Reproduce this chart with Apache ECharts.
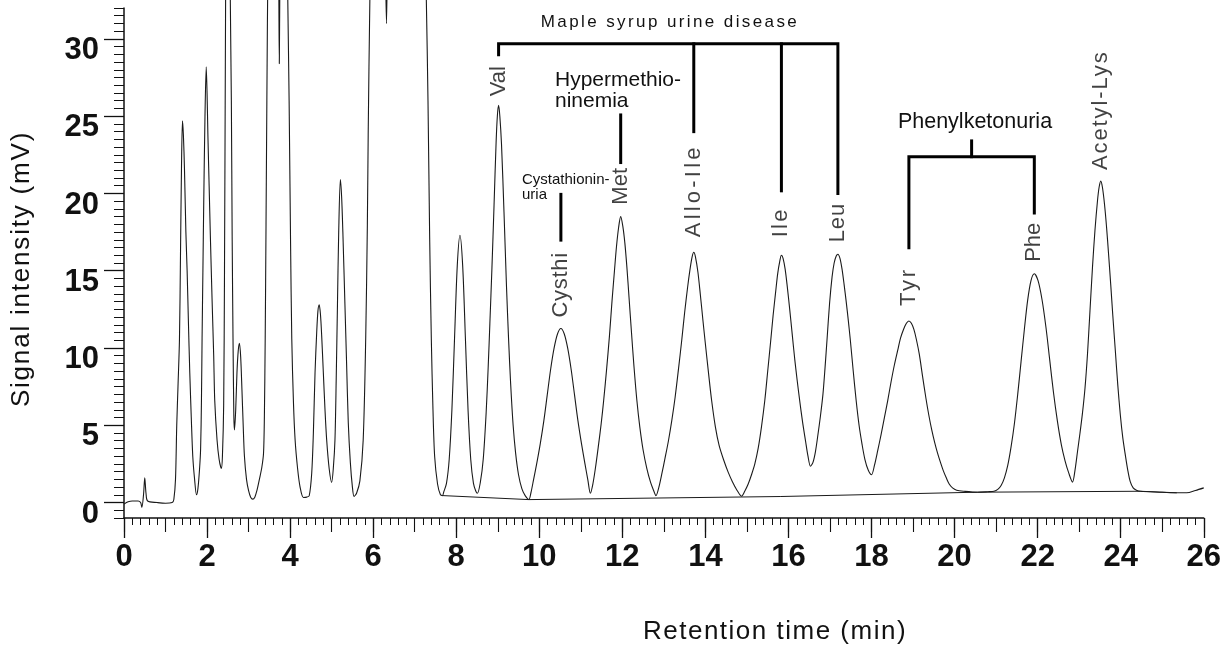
<!DOCTYPE html>
<html>
<head>
<meta charset="utf-8">
<script src="https://cdn.jsdelivr.net/npm/echarts@6/dist/echarts.min.js"></script>
<style>
  html, body { margin: 0; padding: 0; background: #ffffff; }
  #chart { width: 1224px; height: 648px; }
</style>
</head>
<body>
<div id="chart"></div>
<script>
// Detector trace: retention time (min) and signal (mV), read point by point.
// Values above the plot top belong to off-scale peaks.
const traceTime = [
  0, 0.1, 0.2, 0.34, 0.40, 0.43, 0.47, 0.50, 0.53, 0.57, 0.8, 1.0, 1.16,
  1.2, 1.24, 1.27, 1.30, 1.336, 1.36, 1.384, 1.408, 1.43, 1.456, 1.49, 1.52, 1.55, 1.584, 1.62, 1.656, 1.70, 1.745,
  1.78, 1.82, 1.845, 1.865, 1.88, 1.90, 1.92, 1.95, 1.98, 2.0, 2.02, 2.05, 2.08, 2.12, 2.16, 2.185, 2.24, 2.29, 2.345,
  2.37, 2.40, 2.42, 2.44, 2.47, 2.51, 2.56, 2.585, 2.605, 2.625, 2.645, 2.66,
  2.69, 2.72, 2.75, 2.78, 2.81, 2.84, 2.87, 2.90, 2.95, 3.0, 3.05, 3.10,
  3.15, 3.2, 3.26, 3.32, 3.36, 3.38, 3.40, 3.42, 3.44, 3.47, 3.55, 3.65, 3.72, 3.74, 3.76, 3.84, 3.92, 3.944, 3.976, 4.01, 4.04, 4.08, 4.12, 4.18, 4.24, 4.32, 4.40, 4.46,
  4.52, 4.56, 4.60, 4.64, 4.67, 4.70, 4.73, 4.76, 4.80, 4.84, 4.88, 4.94, 5.0,
  5.04, 5.08, 5.11, 5.14, 5.17, 5.21, 5.24, 5.27, 5.32, 5.36, 5.40, 5.45, 5.50, 5.54,
  5.6, 5.68, 5.76, 5.82, 5.86, 5.88, 5.92, 6.0, 6.15, 6.27, 6.32, 6.37, 6.6, 7.0, 7.22, 7.28, 7.32, 7.36, 7.40, 7.44, 7.48, 7.55, 7.62, 7.67,
  7.70, 7.765, 7.83, 7.895, 7.96, 8.025, 8.09, 8.155, 8.22, 8.285, 8.35, 8.415, 8.47, 8.51,
  8.58, 8.65, 8.72, 8.77, 8.81, 8.86, 8.91, 8.96, 8.99, 9.02, 9.05, 9.09, 9.15, 9.21, 9.26, 9.31, 9.37, 9.43, 9.50, 9.58, 9.66, 9.75,
  9.80, 9.86, 9.94, 10.025, 10.11, 10.19, 10.27, 10.355, 10.44, 10.52, 10.60, 10.685, 10.77, 10.85, 10.93, 11.015, 11.10, 11.17, 11.23,
  11.29, 11.35, 11.42, 11.49, 11.55, 11.62, 11.69, 11.75, 11.81, 11.86, 11.91, 11.96, 12.01, 12.06, 12.11, 12.16, 12.22, 12.28, 12.35, 12.42, 12.50, 12.59, 12.68, 12.75, 12.81,
  12.88, 12.95, 13.03, 13.11, 13.19, 13.27, 13.35, 13.43, 13.50, 13.57, 13.63, 13.68, 13.72, 13.76, 13.82, 13.88, 13.94, 13.99, 14.07, 14.15, 14.24, 14.33, 14.44, 14.55, 14.65, 14.76, 14.87,
  14.95, 15.03, 15.11, 15.19, 15.27, 15.35, 15.43, 15.50, 15.57, 15.63, 15.69, 15.74, 15.79, 15.83, 15.87, 15.92, 15.97, 16.03, 16.09, 16.15, 16.21, 16.27, 16.34, 16.41, 16.47, 16.53,
  16.59, 16.65, 16.71, 16.77, 16.83, 16.88, 16.93, 16.99, 17.05, 17.10, 17.15, 17.19, 17.24, 17.29, 17.34, 17.39, 17.44, 17.49, 17.56, 17.63, 17.70, 17.77, 17.84, 17.92, 18.0,
  18.07, 18.15, 18.23, 18.31, 18.39, 18.47, 18.55, 18.63, 18.70, 18.77, 18.84, 18.90, 18.96, 19.02, 19.08, 19.15, 19.23, 19.31, 19.38, 19.45, 19.52, 19.59, 19.66, 19.73, 19.80, 19.87, 19.95, 20.05, 20.23, 20.55, 20.8, 20.95,
  21.04, 21.12, 21.20, 21.28, 21.36, 21.44, 21.52, 21.60, 21.68, 21.76, 21.84, 21.92, 22.01, 22.105, 22.20, 22.29, 22.38, 22.475, 22.57, 22.66, 22.75, 22.84,
  22.90, 22.96, 23.02, 23.08, 23.14, 23.20, 23.26, 23.32, 23.38, 23.44, 23.48, 23.52, 23.56, 23.61, 23.66, 23.71, 23.76, 23.81, 23.87, 23.93, 23.99, 24.05, 24.11, 24.17, 24.23, 24.30, 24.38, 24.47,
  25.0, 25.35, 25.59, 25.8, 26.0
];
const traceSignal = [
  -0.1, 0.05, 0.1, 0.1, 0.0, -0.3, 0.5, 1.6, 0.6, 0.1, 0.0, -0.05, 0.0,
  0.2, 1.5, 5.0, 7.5, 10.6, 16, 21.6, 24.7, 23.8, 21.6, 17.5, 15.0, 11.8, 8.4, 5.5, 3.0, 1.5, 0.5,
  0.9, 2.2, 3.5, 6.6, 10.6, 15, 19.4, 25, 28.2, 26.5, 23.8, 20.5, 17.2, 13.2, 9.5, 6.6, 4.06, 2.8, 2.2,
  3.0, 6.3, 15, 28.2, 45, 52, 32.5, 26, 17, 10.6, 5.6, 4.7,
  6.0, 8.4, 9.8, 10.3, 9.4, 7.3, 5.0, 3.0, 1.5, 0.77, 0.35, 0.22,
  0.35, 0.77, 1.5, 2.3, 3.2, 5.5, 10.6, 18, 26, 36, 50, 48, 36, 28.4, 36, 50, 38, 32.5, 26, 17, 10.6, 6.5, 4.06, 2.2, 1.0, 0.33, 0.35, 0.44,
  1.9, 4.5, 8.4, 11.0, 12.4, 12.8, 12.2, 10.8, 8.4, 6.0, 4.06, 2.2, 1.3,
  2.2, 4.06, 8.0, 12.8, 17.5, 20.9, 19.8, 17.5, 12.8, 9.0, 5.2, 2.6, 1.0, 0.4,
  0.6, 1.4, 4.06, 10.6, 18, 23.8, 32.5, 45, 52, 40, 31.0, 40, 55, 55, 40, 32.5, 26, 17.2, 10.6, 6.0, 3.0, 1.2, 0.5, 0.45,
  0.69, 1.24, 2.77, 5.95, 10.69, 15.33, 17.3, 15.33, 10.69, 5.95, 2.77, 1.24, 0.75, 0.6,
  1.3, 2.8, 5.8, 8.8, 11.6, 15.2, 19.2, 23.3, 25.0, 25.7, 25.0, 23.2, 18.8, 14.0, 10.6, 7.7, 5.0, 3.2, 1.8, 0.9, 0.45, 0.2,
  0.65, 1.45, 2.55, 3.83, 5.3, 6.93, 8.56, 9.97, 10.92, 11.26, 10.92, 9.97, 8.56, 6.93, 5.3, 3.83, 2.5, 1.45, 0.6,
  1.2, 2.2, 3.6, 5.1, 6.6, 8.6, 10.8, 13.0, 15.0, 16.6, 17.8, 18.5, 17.9, 16.8, 15.2, 13.3, 11.0, 8.8, 6.6, 4.9, 3.4, 2.2, 1.3, 0.8, 0.45,
  1.0, 1.85, 2.9, 4.0, 5.3, 6.8, 8.6, 10.5, 12.3, 13.9, 15.1, 15.9, 16.2, 15.9, 14.9, 13.4, 11.8, 10.5, 8.5, 6.6, 4.9, 3.7, 2.75, 1.95, 1.35, 0.8, 0.41,
  0.75, 1.2, 1.8, 2.5, 3.5, 4.9, 6.6, 8.5, 10.4, 12.1, 13.6, 14.8, 15.6, 16.0, 15.8, 15.1, 14.0, 12.5, 10.9, 9.3, 7.9, 6.6, 5.2, 4.0, 3.0, 2.35,
  2.6, 3.3, 4.4, 5.6, 7.0, 8.7, 10.6, 12.9, 14.6, 15.5, 15.95, 16.07, 15.8, 15.1, 14.1, 13.0, 11.8, 10.5, 8.5, 6.6, 5.0, 3.8, 2.8, 2.1, 1.8,
  2.4, 3.37, 4.4, 5.5, 6.6, 7.8, 8.9, 9.85, 10.65, 11.2, 11.6, 11.75, 11.6, 11.2, 10.55, 9.6, 8.15, 6.75, 5.65, 4.7, 3.9, 3.2, 2.6, 2.05, 1.6, 1.2, 0.95, 0.8, 0.73, 0.67, 0.7, 0.73,
  0.85, 1.1, 1.6, 2.4, 3.6, 5.1, 7.0, 9.1, 11.2, 13.1, 14.36, 14.8, 14.36, 13.14, 11.34, 9.25, 7.15, 5.28, 3.75, 2.7, 1.9, 1.32,
  2.1, 3.3, 4.5, 5.8, 7.4, 9.6, 12.4, 15.2, 17.6, 19.5, 20.4, 20.8, 20.4, 19.3, 17.8, 16.0, 14.1, 12.1, 9.85, 7.6, 5.7, 4.2, 3.1, 2.1, 1.35, 0.95, 0.8, 0.73,
  0.67, 0.63, 0.63, 0.78, 0.95
];

// Integration baseline drawn under the later peaks.
const baselineTime = [7.67, 9.75, 15.8, 20.55, 24.47, 25.35];
const baselineSignal = [0.45, 0.19, 0.39, 0.67, 0.73, 0.63];

// Identified amino acids: apex time (min) and apex signal (mV).
const peakNames = ['Val', 'Cysthi', 'Met', 'Allo-Ile', 'Ile', 'Leu', 'Tyr', 'Phe', 'Acetyl-Lys'];
const peakTimes = [9.02, 10.52, 11.96, 13.72, 15.83, 17.19, 18.90, 21.92, 23.52];
const peakHeights = [25.7, 11.26, 18.5, 16.2, 16.0, 16.07, 11.75, 14.8, 20.8];

// Axis ticks.
const xTickLabels = [0, 2, 4, 6, 8, 10, 12, 14, 16, 18, 20, 22, 24, 26];
const yTickLabels = [0, 5, 10, 15, 20, 25, 30];

const FONT = "'Liberation Sans', Arial, Helvetica, sans-serif";
const INK = '#111111';

// Tracking (letter spacing) for texts set wide; every other text is drawn at 0px.
const tracking = {
  'Maple syrup urine disease': '2.4px',
  'Allo-Ile': '3.2px',
  'Ile': '2.2px',
  'Tyr': '2.8px',
  'Leu': '0.8px',
  'Cysthi': '0.7px',
  'Acetyl-Lys': '1.9px',
  'Signal intensity (mV)': '1.8px',
  'Retention time (min)': '1.5px'
};
(function () {
  const proto = CanvasRenderingContext2D.prototype;
  if (!('letterSpacing' in proto)) return;
  const baseFill = proto.fillText;
  proto.fillText = function (text, x, y, maxWidth) {
    const spacing = tracking[text] || '0px';
    if (this.letterSpacing !== spacing) {
      this.letterSpacing = spacing;
      // re-assign the font so the new spacing is picked up
      const f = this.font;
      this.font = '10px serif';
      this.font = f;
    }
    return maxWidth === undefined ? baseFill.call(this, text, x, y) : baseFill.call(this, text, x, y, maxWidth);
  };
})();

const tOf = name => peakTimes[peakNames.indexOf(name)];

// minor y ticks every 0.5 mV between the labelled ones
const yMinorTicks = [];
for (let v = -1; v <= 32.001; v += 0.5) {
  const r = Math.round(v * 10) / 10;
  if (!yTickLabels.includes(r)) yMinorTicks.push(r);
}

const trace = traceTime.map((t, i) => [t, traceSignal[i]]);
const baseline = baselineTime.map((t, i) => [t, baselineSignal[i]]);

// spacing between each apex and its rotated name (px)
const labelGap = [9, 11, 12, 15, 18, 12, 15, 12, 11];

function bracket(points) {
  return {
    type: 'line',
    data: points,
    symbol: 'none',
    silent: true,
    animation: false,
    clip: false,
    z: 4,
    lineStyle: { color: '#000', width: 3, cap: 'square', join: 'miter' }
  };
}

// Disease groupings (y levels in mV).
const mapleTop = 29.68;
const pkuTop = 22.38;

const chart = echarts.init(document.getElementById('chart'), null, { renderer: 'canvas' });

chart.setOption({
  animation: false,
  backgroundColor: '#ffffff',
  grid: { left: 124, right: 17, top: 8, bottom: 130, containLabel: false },
  xAxis: [
    {
      type: 'value', min: 0, max: 26, interval: 2, position: 'bottom',
      axisLine: { show: true, onZero: false, lineStyle: { color: INK, width: 1.5 } },
      axisTick: { show: true, length: 20, lineStyle: { color: INK, width: 1.3 } },
      minorTick: { show: true, splitNumber: 10, length: 7, lineStyle: { color: INK, width: 1 } },
      splitLine: { show: false }, minorSplitLine: { show: false },
      axisLabel: {
        margin: 24, color: INK, fontSize: 31, fontWeight: 'bold', fontFamily: FONT,
        customValues: xTickLabels
      }
    },
    {
      type: 'value', min: 0, max: 26, interval: 1, position: 'bottom',
      axisLine: { show: false, onZero: false },
      axisTick: { show: true, length: 14, lineStyle: { color: INK, width: 1.1 } },
      axisLabel: { show: false }, splitLine: { show: false }
    }
  ],
  yAxis: [
    {
      type: 'value', min: -1, max: 32, position: 'left',
      axisLine: { show: true, onZero: false, lineStyle: { color: INK, width: 1.5 } },
      axisTick: { show: true, length: 20, customValues: yTickLabels, lineStyle: { color: INK, width: 1.3 } },
      axisLabel: {
        customValues: yTickLabels, margin: 25, color: INK, fontSize: 31, fontWeight: 'bold',
        fontFamily: FONT, verticalAlign: 'top', lineHeight: 23
      },
      splitLine: { show: false }
    },
    {
      type: 'value', min: -1, max: 32, position: 'left',
      axisLine: { show: false, onZero: false },
      axisTick: { show: true, length: 10, customValues: yMinorTicks, lineStyle: { color: INK, width: 1 } },
      axisLabel: { show: false }, splitLine: { show: false }
    }
  ],
  series: [
    {
      name: 'Signal',
      type: 'line',
      data: trace,
      symbol: 'none',
      smooth: 0.3,
      clip: false,
      z: 3,
      lineStyle: { color: '#1a1a1a', width: 1.1 }
    },
    {
      name: 'Baseline',
      type: 'line',
      data: baseline,
      symbol: 'none',
      clip: false,
      z: 2,
      lineStyle: { color: '#1a1a1a', width: 1 }
    },
    {
      name: 'Peak names',
      type: 'scatter',
      symbolSize: 0,
      silent: true,
      z: 5,
      data: peakTimes.map((t, i) => ({
        value: [t, peakHeights[i]],
        label: { distance: labelGap[i] }
      })),
      label: {
        show: true, position: 'top', rotate: 90, align: 'left', verticalAlign: 'middle',
        formatter: p => peakNames[p.dataIndex],
        fontSize: 22, fontFamily: FONT, color: INK
      }
    },
    // Maple syrup urine disease: Val, Allo-Ile, Ile, Leu
    bracket([[tOf('Val'), 28.97], [tOf('Val'), mapleTop], [tOf('Leu'), mapleTop], [tOf('Leu'), 20.0]]),
    bracket([[tOf('Allo-Ile'), mapleTop], [tOf('Allo-Ile'), 24.0]]),
    bracket([[tOf('Ile'), mapleTop], [tOf('Ile'), 20.17]]),
    // Hypermethioninemia: Met
    bracket([[tOf('Met'), 25.08], [tOf('Met'), 22.0]]),
    // Cystathioninuria: Cysthi
    bracket([[tOf('Cysthi'), 19.94], [tOf('Cysthi'), 16.98]]),
    // Phenylketonuria: Tyr, Phe
    bracket([[tOf('Tyr'), 16.49], [tOf('Tyr'), pkuTop], [tOf('Phe'), pkuTop], [tOf('Phe'), 18.73]]),
    bracket([[(tOf('Tyr') + tOf('Phe')) / 2, pkuTop], [(tOf('Tyr') + tOf('Phe')) / 2, 23.4]])
  ],
  graphic: [
    {
      type: 'text', x: 670, y: 22, silent: true,
      style: { text: 'Maple syrup urine disease', fill: INK, font: '17px ' + FONT, textAlign: 'center', textVerticalAlign: 'middle' }
    },
    {
      type: 'text', x: 555, y: 80, silent: true,
      style: { text: 'Hypermethio-', fill: INK, font: '21px ' + FONT, textAlign: 'left', textVerticalAlign: 'middle' }
    },
    {
      type: 'text', x: 555, y: 101, silent: true,
      style: { text: 'ninemia', fill: INK, font: '21px ' + FONT, textAlign: 'left', textVerticalAlign: 'middle' }
    },
    {
      type: 'text', x: 522, y: 180, silent: true,
      style: { text: 'Cystathionin-', fill: INK, font: '15px ' + FONT, textAlign: 'left', textVerticalAlign: 'middle' }
    },
    {
      type: 'text', x: 522, y: 195, silent: true,
      style: { text: 'uria', fill: INK, font: '15px ' + FONT, textAlign: 'left', textVerticalAlign: 'middle' }
    },
    {
      type: 'text', x: 975, y: 122, silent: true,
      style: { text: 'Phenylketonuria', fill: INK, font: '21.5px ' + FONT, textAlign: 'center', textVerticalAlign: 'middle' }
    },
    {
      type: 'text', x: 22, y: 269, rotation: Math.PI / 2, silent: true,
      style: { text: 'Signal intensity (mV)', fill: INK, font: '26px ' + FONT, textAlign: 'center', textVerticalAlign: 'middle' }
    },
    {
      type: 'text', x: 775, y: 632, silent: true,
      style: { text: 'Retention time (min)', fill: INK, font: '26px ' + FONT, textAlign: 'center', textVerticalAlign: 'middle' }
    }
  ]
});
</script>
</body>
</html>
